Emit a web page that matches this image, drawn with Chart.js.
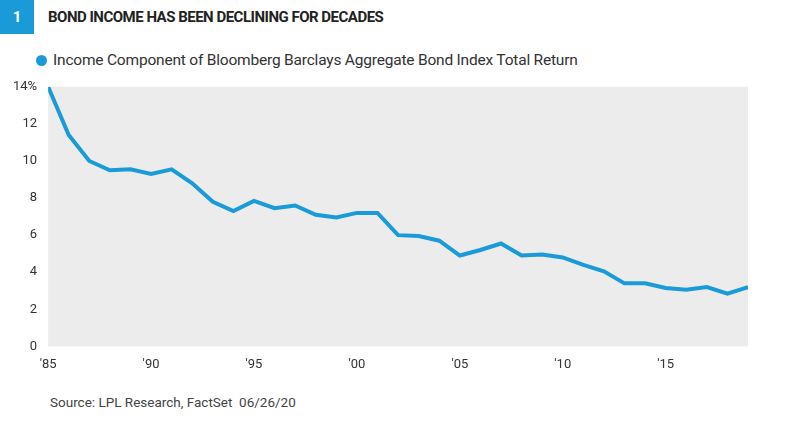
<!DOCTYPE html>
<html><head><meta charset="utf-8">
<script src="https://cdn.jsdelivr.net/npm/chart.js@4"></script>
<style>
body{margin:0;width:788px;height:430px;background:#fff;font-family:Roboto,sans-serif;color:#333;position:relative;overflow:hidden}
#num{position:absolute;left:0;top:0;width:34px;height:34px;background:#1a9ad6;color:#fff;font-weight:bold;font-size:15px;line-height:34px;text-align:center}
#ttl{position:absolute;left:48px;top:8px;font-weight:bold;font-size:15px;color:#222;letter-spacing:-0.5px}
#leg{position:absolute;left:36px;top:51px;font-size:15.5px;color:#333;letter-spacing:-0.2px}
#leg span{display:inline-block;width:11px;height:11px;border-radius:50%;background:#1a9ad6;margin-right:6px;vertical-align:-1px}
#src{position:absolute;left:50px;top:394px;font-size:13.5px;color:#444}
#wrap{position:absolute;left:10px;top:76px;width:770px;height:300px}
</style></head><body>
<div id="num">1</div><div id="ttl">BOND INCOME HAS BEEN DECLINING FOR DECADES</div>
<div id="leg"><span></span>Income Component of Bloomberg Barclays Aggregate Bond Index Total Return</div>
<div id="wrap"><canvas id="c"></canvas></div>
<div id="src">Source: LPL Research, FactSet &nbsp;06/26/20</div>
<script>
const YEARS = [1985,1986,1987,1988,1989,1990,1991,1992,1993,1994,1995,1996,1997,1998,1999,2000,2001,2002,2003,2004,2005,2006,2007,2008,2009,2010,2011,2012,2013,2014,2015,2016,2017,2018,2019];
const INCOME = [14.0,11.4,10.0,9.5,9.55,9.3,9.55,8.8,7.8,7.3,7.85,7.45,7.6,7.1,6.95,7.2,7.2,6.0,5.95,5.7,4.9,5.2,5.55,4.9,4.95,4.8,4.4,4.05,3.4,3.4,3.15,3.05,3.2,2.85,3.2];
const Y_TICKS = [0,2,4,6,8,10,12,14];

const bg = {
  id: 'bg',
  beforeDraw(ch) {
    const a = ch.chartArea, c = ch.ctx;
    c.save(); c.fillStyle = '#ececec';
    c.fillRect(a.left, a.top, a.right - a.left, a.bottom - a.top);
    c.restore();
  }
};

new Chart(document.getElementById('c'), {
  type: 'line',
  data: {
    datasets: [{
      data: YEARS.map((y, i) => ({ x: y, y: INCOME[i] })),
      borderColor: '#1a9ad6',
      borderWidth: 4,
      pointRadius: 0,
      tension: 0,
    }]
  },
  options: {
    responsive: true,
    maintainAspectRatio: false,
    animation: false,
    layout: { padding: { right: 32, top: 6 } },
    plugins: { legend: { display: false }, tooltip: { enabled: false } },
    scales: {
      x: {
        type: 'linear', min: 1985, max: 2019,
        grid: { display: false },
        border: { display: false },
        afterBuildTicks: ax => { ax.ticks = [1985,1990,1995,2000,2005,2010,2015].map(v => ({ value: v })); },
        ticks: { color: '#333', font: { size: 13, family: 'Roboto' },
          callback: v => "'" + String(v).slice(2) }
      },
      y: {
        min: 0, max: 14,
        grid: { display: false },
        border: { display: false },
        afterBuildTicks: ax => { ax.ticks = Y_TICKS.map(v => ({ value: v })); },
        ticks: { color: '#333', font: { size: 13, family: 'Roboto' },
          callback: v => v === 14 ? '14%' : v }
      }
    }
  },
  plugins: [bg]
});
</script>
</body></html>
